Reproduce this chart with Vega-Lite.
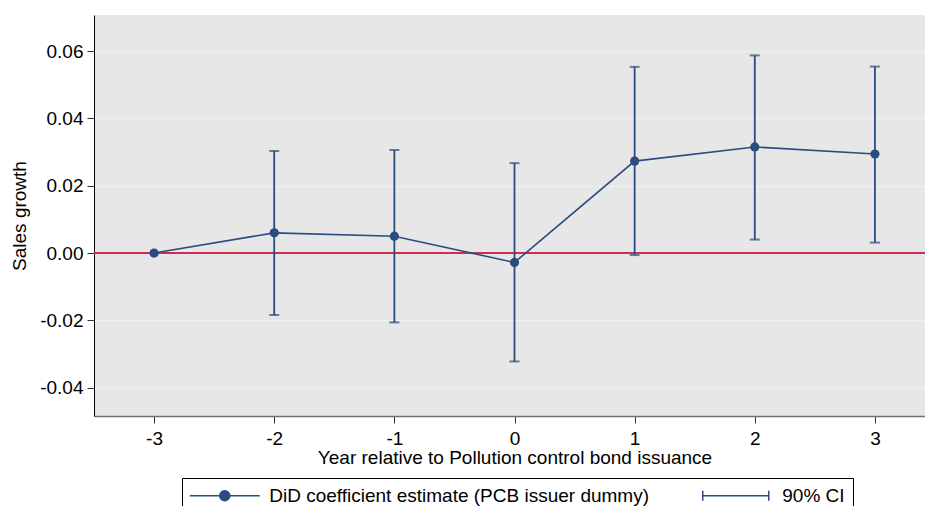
{
  "$schema": "https://vega.github.io/schema/vega-lite/v6.json",
  "width": 841,
  "height": 401,
  "padding": {"left": 10, "top": 15, "right": 0, "bottom": 0},
  "background": "white",
  "config": {
    "font": "Liberation Sans",
    "view": {"fill": "#E7E7E7", "stroke": null},
    "axis": {
      "labelFont": "Liberation Sans",
      "labelFontSize": 19,
      "labelColor": "black",
      "titleFont": "Liberation Sans",
      "titleFontSize": 19,
      "titleFontWeight": "normal",
      "titleColor": "black",
      "tickColor": "#333333",
      "tickSize": 7,
      "labelPadding": 4
    }
  },
  "data": {
    "values": [
      {"t": -3, "b": 0.0, "lo": null, "hi": null},
      {"t": -2, "b": 0.0060, "lo": -0.0184, "hi": 0.0303},
      {"t": -1, "b": 0.0050, "lo": -0.0206, "hi": 0.0306},
      {"t": 0, "b": -0.0028, "lo": -0.0322, "hi": 0.0267},
      {"t": 1, "b": 0.0273, "lo": -0.0006, "hi": 0.0553},
      {"t": 2, "b": 0.0315, "lo": 0.0040, "hi": 0.0587},
      {"t": 3, "b": 0.0294, "lo": 0.0031, "hi": 0.0554}
    ]
  },
  "encoding": {
    "x": {
      "field": "t",
      "type": "quantitative",
      "scale": {"domain": [-3.5, 3.5], "nice": false, "zero": false},
      "axis": {
        "values": [-3, -2, -1, 0, 1, 2, 3],
        "labelExpr": "datum.value < 0 ? '-' + format(abs(datum.value), 'd') : format(datum.value, 'd')",
        "grid": false,
        "domainColor": "#707070",
        "domainWidth": 1.5,
        "labelPadding": 6,
        "title": "Year relative to Pollution control bond issuance",
        "titlePadding": 0
      }
    }
  },
  "layer": [
    {
      "mark": {"type": "rule", "color": "#D12D52", "strokeWidth": 1.5},
      "encoding": {
        "x": null,
        "y": {"datum": 0, "type": "quantitative"}
      }
    },
    {
      "mark": {"type": "rule", "color": "#2B4C7E", "strokeWidth": 1.8},
      "encoding": {
        "y": {
          "field": "lo",
          "type": "quantitative",
          "scale": {"domain": [-0.0484, 0.0707], "nice": false, "zero": false},
          "axis": {
            "values": [-0.04, -0.02, 0, 0.02, 0.04, 0.06],
            "labelExpr": "datum.value < -0.0001 ? '-' + format(abs(datum.value), '.2f') : format(abs(datum.value), '.2f')",
            "grid": true,
            "gridColor": "#EDF3F3",
            "gridWidth": 1.2,
            "domainColor": "black",
            "domainWidth": 1,
            "title": "Sales growth",
            "titlePadding": 10
          }
        },
        "y2": {"field": "hi"}
      }
    },
    {
      "mark": {"type": "tick", "orient": "horizontal", "size": 10, "thickness": 2, "color": "#2B4C7E"},
      "encoding": {"y": {"field": "lo", "type": "quantitative"}}
    },
    {
      "mark": {"type": "tick", "orient": "horizontal", "size": 10, "thickness": 2, "color": "#2B4C7E"},
      "encoding": {"y": {"field": "hi", "type": "quantitative"}}
    },
    {
      "mark": {"type": "line", "color": "#2B4C7E", "strokeWidth": 1.6},
      "encoding": {"y": {"field": "b", "type": "quantitative"}}
    },
    {
      "mark": {"type": "point", "filled": true, "size": 85, "opacity": 1, "color": "#2B4C7E"},
      "encoding": {"y": {"field": "b", "type": "quantitative"}}
    },
    {
      "mark": {"type": "point", "filled": true, "size": 85, "opacity": 0},
      "encoding": {
        "y": {"field": "b", "type": "quantitative"},
        "color": {
          "datum": "DiD coefficient estimate (PCB issuer dummy)",
          "type": "nominal",
          "scale": {
            "domain": ["DiD coefficient estimate (PCB issuer dummy)", "90% CI"],
            "range": ["#2B4C7E", "#2B4C7E"]
          },
          "legend": {
            "title": null,
            "orient": "none",
            "direction": "horizontal",
            "legendX": 88,
            "legendY": 463,
            "padding": 8,
            "strokeColor": "black",
            "fillColor": "white",
            "symbolSize": 100,
            "symbolOpacity": 1,
            "symbolStrokeColor": "#2B4C7E",
            "symbolStrokeWidth": 1.5,
            "symbolOffset": -9.75,
            "labelOffset": 70,
            "labelFont": "Liberation Sans",
            "labelFontSize": 19,
            "labelColor": "black",
            "labelLimit": 600,
            "columnPadding": 49,
            "encoding": {
              "symbols": {
                "stroke": {"value": "#2B4C7E"},
                "strokeWidth": {"value": 1.5},
                "opacity": {"value": 1}
              }
            }
          }
        },
        "shape": {
          "datum": "DiD coefficient estimate (PCB issuer dummy)",
          "type": "nominal",
          "scale": {
            "domain": ["DiD coefficient estimate (PCB issuer dummy)", "90% CI"],
            "range": ["M0,0H14M6,0A1,1 0 1,0 8,0A1,1 0 1,0 6,0Z", "M0,-1V1M0,0H13.2M13.2,-1V1"]
          },
          "legend": {
            "title": null,
            "orient": "none",
            "direction": "horizontal",
            "legendX": 88,
            "legendY": 463,
            "padding": 8,
            "strokeColor": "black",
            "fillColor": "white",
            "symbolSize": 100,
            "symbolOpacity": 1,
            "symbolStrokeColor": "#2B4C7E",
            "symbolStrokeWidth": 1.5,
            "symbolOffset": -9.75,
            "labelOffset": 70,
            "labelFont": "Liberation Sans",
            "labelFontSize": 19,
            "labelColor": "black",
            "labelLimit": 600,
            "columnPadding": 49,
            "encoding": {
              "symbols": {
                "stroke": {"value": "#2B4C7E"},
                "strokeWidth": {"value": 1.5},
                "opacity": {"value": 1}
              }
            }
          }
        }
      }
    }
  ]
}
